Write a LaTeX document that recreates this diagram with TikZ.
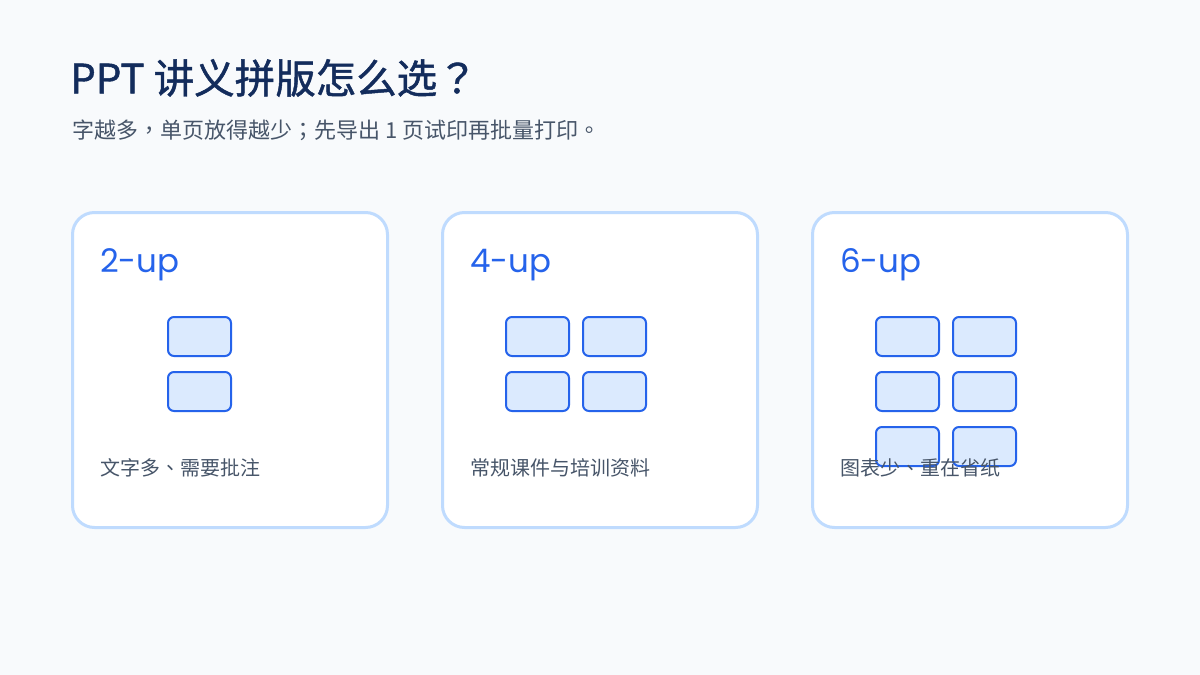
\documentclass[tikz,border=0pt]{standalone}
\usepackage{fontspec}
\setmainfont{Noto Sans CJK TC}
\newfontfamily\headfont[FakeBold=1.2]{Noto Sans CJK TC}
\newfontfamily\latinfont{Poppins}
\usetikzlibrary{positioning}
\definecolor{pagebg}{HTML}{F8FAFC}
\definecolor{cardedge}{HTML}{BFDBFE}
\definecolor{sheetedge}{HTML}{2563EB}
\definecolor{sheetfill}{HTML}{DBEAFE}
\definecolor{headcol}{HTML}{132C5C}
\definecolor{subcol}{HTML}{475569}
\tikzset{
  card/.style={rectangle, draw=cardedge, fill=white, line width=3pt,
               rounded corners=22pt, minimum width=315pt, minimum height=315pt,
               inner sep=0pt},
  sheet/.style={rectangle, draw=sheetedge, fill=sheetfill, line width=2pt,
                rounded corners=6pt, minimum width=63pt, minimum height=39pt,
                inner sep=0pt},
  cardtitle/.style={anchor=base west, inner sep=0pt, text=sheetedge,
                    font=\latinfont\fontsize{32.5}{40}\selectfont},
  cardnote/.style={anchor=west, inner sep=0pt, text=subcol,
                   font=\fontsize{20}{24}\selectfont},
}

\begin{document}
\begin{tikzpicture}[x=1pt, y=-1pt]
  \fill[pagebg] (0,0) rectangle (1200,675);
  \useasboundingbox (0,0) rectangle (1200,675);
  % heading
  \node[anchor=west, inner sep=0pt, text=headcol, font=\headfont\fontsize{40.5}{46}\selectfont]
    (head) at (70,78) {PPT 讲义拼版怎么选？};
  \node[anchor=west, inner sep=0pt, text=subcol, font=\fontsize{22}{26}\selectfont]
    (sub) at (72,130) {字越多，单页放得越少；先导出 1 页试印再批量打印。};
  % cards
  \node[card] (card1) at (230,370) {};
  \node[card] (card2) at (600,370) {};
  \node[card] (card3) at (970,370) {};
  % 2-up
  \foreach \r in {0,1} \node[sheet] (sa\r) at (199.5,336.5+\r*55) {};
  % 4-up
  \foreach \c in {0,1} \foreach \r in {0,1}
    \node[sheet] (sb\c\r) at (537.5+\c*77,336.5+\r*55) {};
  % 6-up
  \foreach \c in {0,1} \foreach \r in {0,1,2}
    \node[sheet] (sc\c\r) at (907.5+\c*77,336.5+\r*55) {};
  \node[cardtitle] (t1) at (100,272) {2-up};
  \node[cardtitle] (t2) at (470,272) {4-up};
  \node[cardtitle] (t3) at (840,272) {6-up};
  \node[cardnote] (n1) at (100,468) {文字多、需要批注};
  \node[cardnote] (n2) at (470,468) {常规课件与培训资料};
  \node[cardnote] (n3) at (840,468) {图表少、重在省纸};
\end{tikzpicture}
\end{document}
